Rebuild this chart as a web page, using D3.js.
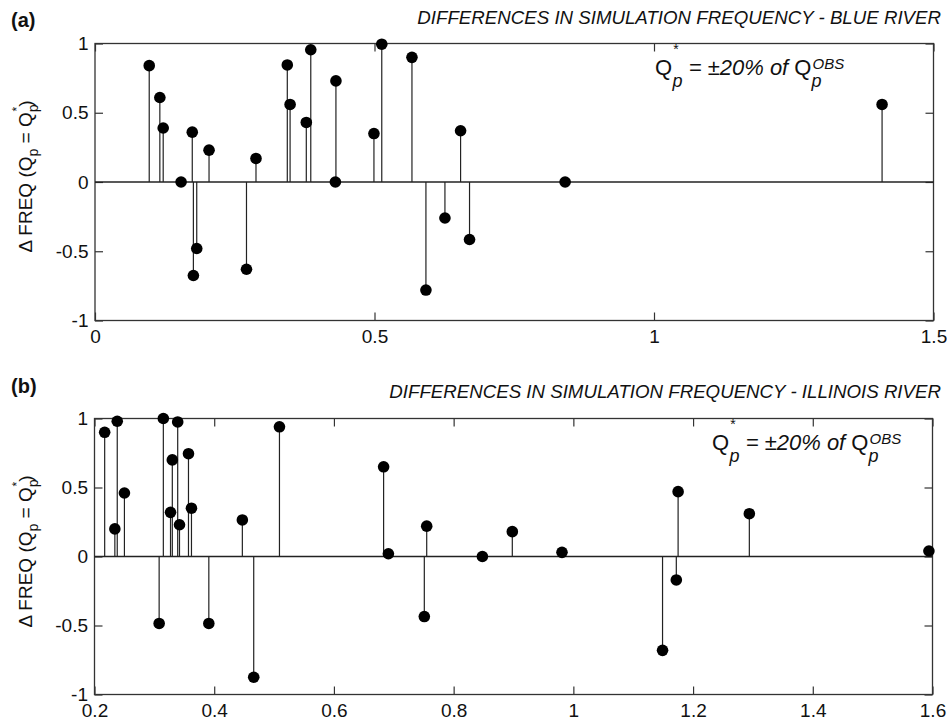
<!DOCTYPE html>
<html>
<head>
<meta charset="utf-8">
<script src="https://cdn.jsdelivr.net/npm/d3@7"></script>
<style>
  html, body { margin: 0; padding: 0; background: #fff; }
  svg { display: block; }
  text { font-family: "Liberation Sans", Arial, Helvetica, sans-serif; fill: #111; }
</style>
</head>
<body>
<svg id="chart" width="947" height="721"></svg>
<script>
// ---------------- DATA ----------------
// Panel (a) Blue River
const blueX = [0.097, 0.116, 0.122, 0.154, 0.174, 0.176, 0.182, 0.204, 0.271, 0.288,
               0.344, 0.349, 0.378, 0.386, 0.430, 0.431, 0.499, 0.513, 0.567, 0.592,
               0.626, 0.654, 0.670, 0.841, 1.408];
const blueY = [0.84, 0.61, 0.39, 0.00, 0.36, -0.675, -0.48, 0.23, -0.63, 0.17,
               0.845, 0.56, 0.43, 0.955, 0.00, 0.73, 0.35, 0.995, 0.90, -0.78,
               -0.26, 0.37, -0.415, 0.00, 0.56];
// Panel (b) Illinois River
const illX = [0.217, 0.234, 0.238, 0.250, 0.308, 0.315, 0.327, 0.330, 0.339, 0.342,
              0.357, 0.362, 0.391, 0.447, 0.466, 0.509, 0.683, 0.691, 0.751, 0.755,
              0.848, 0.898, 0.981, 1.149, 1.172, 1.175, 1.294, 1.594];
const illY = [0.90, 0.20, 0.98, 0.46, -0.485, 1.00, 0.32, 0.70, 0.975, 0.23,
              0.745, 0.35, -0.485, 0.265, -0.875, 0.94, 0.65, 0.02, -0.435, 0.22,
              0.00, 0.18, 0.03, -0.68, -0.17, 0.47, 0.31, 0.04];

const xTicksA = [0, 0.5, 1, 1.5];
const xTicksB = [0.2, 0.4, 0.6, 0.8, 1, 1.2, 1.4, 1.6];
const yTicks = [-1, -0.5, 0, 0.5, 1];
const xDomainA = [0, 1.5];
const xDomainB = [0.2, 1.6];
const yDomain = [-1, 1];

const titleA = "DIFFERENCES IN SIMULATION FREQUENCY - BLUE RIVER";
const titleB = "DIFFERENCES IN SIMULATION FREQUENCY - ILLINOIS RIVER";
const panelLabelA = "(a)";
const panelLabelB = "(b)";

// ---------------- DRAW ----------------
const svg = d3.select("#chart");
const FS = 19;

function drawPanel(cfg) {
  const g = svg.append("g");
  const x = d3.scaleLinear().domain(cfg.xDomain).range([cfg.left, cfg.right]);
  const y = d3.scaleLinear().domain(yDomain).range([cfg.bottom, cfg.top]);
  const fmt = d => String(+d.toFixed(2));

  // axes with inward ticks (bottom/left labelled, top/right unlabelled)
  const axB = g.append("g").attr("transform", `translate(0,${cfg.bottom})`)
    .call(d3.axisBottom(x).tickValues(cfg.xTicks).tickSize(-8).tickPadding(9.5).tickFormat(fmt));
  const axT = g.append("g").attr("transform", `translate(0,${cfg.top})`)
    .call(d3.axisTop(x).tickValues(cfg.xTicks).tickSize(-8).tickFormat(""));
  const axL = g.append("g").attr("transform", `translate(${cfg.left},0)`)
    .call(d3.axisLeft(y).tickValues(yTicks).tickSize(-8).tickPadding(6.5).tickFormat(fmt));
  const axR = g.append("g").attr("transform", `translate(${cfg.right},0)`)
    .call(d3.axisRight(y).tickValues(yTicks).tickSize(-8).tickFormat(""));
  [axB, axT, axL, axR].forEach(a => {
    a.select(".domain").remove();
    a.selectAll(".tick line").attr("stroke", "#333").attr("stroke-width", 1.2);
    a.selectAll(".tick text").attr("font-size", FS).attr("fill", "#111")
      .attr("font-family", '"Liberation Sans", Arial, sans-serif');
  });

  // frame
  g.append("rect")
    .attr("x", cfg.left).attr("y", cfg.top)
    .attr("width", cfg.right - cfg.left).attr("height", cfg.bottom - cfg.top)
    .attr("fill", "none").attr("stroke", "#333").attr("stroke-width", 1.3);

  // zero line
  g.append("line")
    .attr("x1", cfg.left).attr("x2", cfg.right)
    .attr("y1", y(0)).attr("y2", y(0))
    .attr("stroke", "#222").attr("stroke-width", 1.5);

  const data = cfg.xs.map((v, i) => ({ x: v, y: cfg.ys[i] }));

  // stems
  g.selectAll("line.stem").data(data).enter().append("line")
    .attr("class", "stem")
    .attr("x1", d => x(d.x)).attr("x2", d => x(d.x))
    .attr("y1", y(0)).attr("y2", d => y(d.y))
    .attr("stroke", "#222").attr("stroke-width", 1.2);

  // markers
  g.selectAll("circle.pt").data(data).enter().append("circle")
    .attr("class", "pt")
    .attr("cx", d => x(d.x)).attr("cy", d => y(d.y))
    .attr("r", 5.8).attr("fill", "#000");

  // panel label
  svg.append("text").attr("x", 11).attr("y", cfg.labelY)
    .attr("font-size", 20).attr("font-weight", "bold").text(cfg.label);

  // title
  svg.append("text").attr("x", 941).attr("y", cfg.titleY)
    .attr("text-anchor", "end").attr("font-size", 18.7).attr("font-style", "italic")
    .text(cfg.title);

  // y-axis label (rotated)
  const yl = svg.append("text")
    .attr("transform", `translate(32,${cfg.top + 133}) rotate(-90)`)
    .attr("text-anchor", "middle").attr("font-size", FS);
  yl.append("tspan").text("\u0394 FREQ (Q");
  yl.append("tspan").attr("font-size", 14).attr("dy", 6).text("p");
  yl.append("tspan").attr("dy", -6).text(" = Q");
  yl.append("tspan").attr("font-size", 14).attr("dy", 6).text("p");
  yl.append("tspan").attr("font-size", 12).attr("dx", -7).attr("dy", -17).text("*");
  yl.append("tspan").attr("dy", 11).text(")");

  // annotation  Q*p = ±20% of Q^OBS_p
  const an = svg.append("text")
    .attr("x", cfg.annX).attr("y", cfg.top + 31.5)
    .attr("font-size", 22);
  an.append("tspan").text("Q");
  an.append("tspan").attr("font-size", 14).attr("dy", -21).attr("dx", 1).text("*");
  an.append("tspan").attr("font-size", 18).attr("font-style", "italic").attr("dx", -6).attr("dy", 33).text("p");
  an.append("tspan").attr("font-style", "italic").attr("dy", -12).text(" = \u00B120% of ");
  an.append("tspan").text("Q");
  an.append("tspan").attr("font-size", 18).attr("font-style", "italic").attr("dy", 12).text("p");
  an.append("tspan").attr("font-size", 15).attr("font-style", "italic").attr("dx", -9).attr("dy", -18).text("OBS");
}

drawPanel({
  xs: blueX, ys: blueY, xDomain: xDomainA, xTicks: xTicksA,
  left: 95, right: 933.5, top: 43.5, bottom: 320.5,
  label: panelLabelA, labelY: 26.5, title: titleA, titleY: 23.5, annX: 655
});
drawPanel({
  xs: illX, ys: illY, xDomain: xDomainB, xTicks: xTicksB,
  left: 94.5, right: 932.5, top: 418.5, bottom: 694.5,
  label: panelLabelB, labelY: 393, title: titleB, titleY: 397.5, annX: 712
});
</script>
</body>
</html>
